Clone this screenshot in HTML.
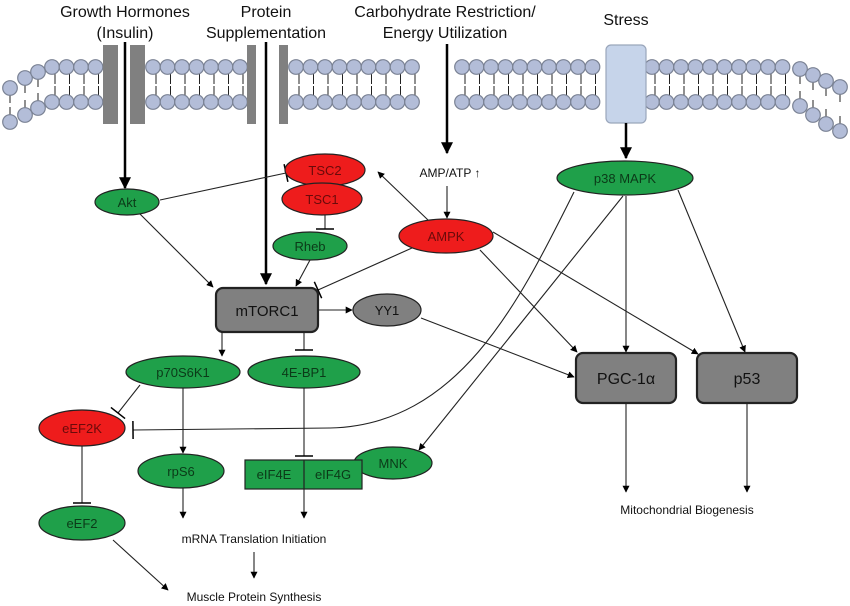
<!DOCTYPE html>
<html><head><meta charset="utf-8"><style>
body{margin:0;background:#fff}
svg{display:block;font-family:"Liberation Sans",Arial,sans-serif}
</style></head><body>
<svg id="s" width="850" height="606" viewBox="0 0 850 606" xmlns="http://www.w3.org/2000/svg">
<defs>
<marker id="a" viewBox="0 0 10 10" refX="9" refY="5" markerWidth="7" markerHeight="7" orient="auto" markerUnits="userSpaceOnUse"><path d="M0,0 L10,5 L0,10 z" fill="#000"/></marker>
<marker id="A" viewBox="0 0 10 10" refX="9" refY="5" markerWidth="12" markerHeight="12" orient="auto" markerUnits="userSpaceOnUse"><path d="M0,0 L10,5 L0,10 z" fill="#000"/></marker>
<marker id="t" viewBox="0 0 20 20" refX="10" refY="10" markerWidth="20" markerHeight="20" orient="auto" markerUnits="userSpaceOnUse"><path d="M10,1 L10,19" stroke="#000" stroke-width="1.5"/></marker>
</defs>
<g id="mem"></g>
<!-- channels -->
<g fill="#808080">
<rect x="103" y="45" width="15" height="79"/><rect x="130" y="45" width="15" height="79"/>
<rect x="247" y="45" width="9" height="79"/><rect x="279" y="45" width="9" height="79"/>
</g>
<rect x="606" y="45" width="40" height="78" rx="5" fill="#c6d4ea" stroke="#9aa6bb" stroke-width="1.2"/>
<!-- titles -->
<g font-size="16" text-anchor="middle" fill="#111">
<text x="125" y="17">Growth Hormones</text><text x="125" y="38">(Insulin)</text>
<text x="266" y="17">Protein</text><text x="266" y="38">Supplementation</text>
<text x="445" y="17">Carbohydrate Restriction/</text><text x="445" y="38">Energy Utilization</text>
<text x="626" y="25">Stress</text>
</g>
<!-- thick arrows -->
<g stroke="#000" stroke-width="2.5" fill="none">
<line x1="125" y1="42" x2="125" y2="188" marker-end="url(#A)"/>
<line x1="266" y1="42" x2="266" y2="284" marker-end="url(#A)"/>
<line x1="447" y1="44" x2="447" y2="153" marker-end="url(#A)"/>
<line x1="626" y1="123" x2="626" y2="158" marker-end="url(#A)"/>
</g>
<!-- thin connectors -->
<g stroke="#222" stroke-width="1.1" fill="none">
<line x1="140" y1="214" x2="213" y2="287" marker-end="url(#a)"/>
<line x1="160" y1="200" x2="286" y2="173" marker-end="url(#t)"/>
<line x1="325" y1="215" x2="325" y2="229" marker-end="url(#t)"/>
<line x1="310" y1="260" x2="296" y2="286" marker-end="url(#a)"/>
<line x1="447" y1="186" x2="447" y2="218" marker-end="url(#a)"/>
<line x1="428" y1="220" x2="378" y2="172" marker-end="url(#a)"/>
<line x1="412" y1="248" x2="318" y2="290" marker-end="url(#t)"/>
<line x1="480" y1="250" x2="577" y2="352" marker-end="url(#a)"/>
<line x1="493" y1="232" x2="698" y2="354" marker-end="url(#a)"/>
<line x1="318" y1="310" x2="352" y2="310" marker-end="url(#a)"/>
<line x1="421" y1="318" x2="574" y2="377" marker-end="url(#a)"/>
<line x1="222" y1="332" x2="222" y2="356" marker-end="url(#a)"/>
<line x1="304" y1="332" x2="304" y2="350" marker-end="url(#t)"/>
<line x1="626" y1="196" x2="626" y2="352" marker-end="url(#a)"/>
<line x1="678" y1="190" x2="745" y2="352" marker-end="url(#a)"/>
<line x1="623" y1="196" x2="419" y2="450" marker-end="url(#a)"/>
<path d="M574 192 C520 300,460 425,330 428 L133 430" marker-end="url(#t)"/>
<line x1="140" y1="385" x2="118" y2="413" marker-end="url(#t)"/>
<line x1="183" y1="388" x2="183" y2="453" marker-end="url(#a)"/>
<line x1="304" y1="388" x2="304" y2="456" marker-end="url(#t)"/>
<line x1="304" y1="460" x2="304" y2="518" marker-end="url(#a)"/>
<line x1="183" y1="488" x2="183" y2="518" marker-end="url(#a)"/>
<line x1="82" y1="446" x2="82" y2="503" marker-end="url(#t)"/>
<line x1="113" y1="540" x2="168" y2="590" marker-end="url(#a)"/>
<line x1="254" y1="552" x2="254" y2="578" marker-end="url(#a)"/>
<line x1="626" y1="403" x2="626" y2="492" marker-end="url(#a)"/>
<line x1="747" y1="403" x2="747" y2="492" marker-end="url(#a)"/>
</g>
<!-- nodes -->
<g stroke="#222" stroke-width="1.2" font-size="13" text-anchor="middle">
<ellipse cx="127" cy="202" rx="32" ry="13" fill="#1fa04a"/>
<ellipse cx="325" cy="170" rx="40" ry="16" fill="#ee1c1c"/>
<ellipse cx="322" cy="199" rx="40" ry="16" fill="#ee1c1c"/>
<ellipse cx="310" cy="246" rx="37" ry="14" fill="#1fa04a"/>
<ellipse cx="446" cy="236" rx="47" ry="17" fill="#ee1c1c"/>
<ellipse cx="625" cy="178" rx="68" ry="17" fill="#1fa04a"/>
<rect x="216" y="288" width="102" height="44" rx="7" fill="#808080" stroke-width="2.2"/>
<ellipse cx="387" cy="310" rx="34" ry="16" fill="#808080"/>
<ellipse cx="183" cy="372" rx="57" ry="16" fill="#1fa04a"/>
<ellipse cx="304" cy="372" rx="56" ry="16" fill="#1fa04a"/>
<ellipse cx="82" cy="428" rx="43" ry="18" fill="#ee1c1c"/>
<ellipse cx="181" cy="471" rx="43" ry="17" fill="#1fa04a"/>
<ellipse cx="393" cy="463" rx="39" ry="16" fill="#1fa04a"/>
<rect x="245" y="460" width="117" height="29" fill="#1fa04a"/>
<line x1="304" y1="460" x2="304" y2="489"/>
<ellipse cx="82" cy="523" rx="43" ry="17" fill="#1fa04a"/>
<rect x="576" y="353" width="100" height="50" rx="7" fill="#808080" stroke-width="2.2"/>
<rect x="697" y="353" width="100" height="50" rx="7" fill="#808080" stroke-width="2.2"/>
</g>
<g font-size="13" text-anchor="middle" fill="#0b3a18">
<text x="127" y="207">Akt</text><text x="310" y="251">Rheb</text>
<text x="625" y="183">p38 MAPK</text><text x="183" y="377">p70S6K1</text>
<text x="304" y="377">4E-BP1</text><text x="181" y="476">rpS6</text>
<text x="393" y="468">MNK</text><text x="274" y="479">eIF4E</text><text x="333" y="479">eIF4G</text>
<text x="82" y="528">eEF2</text>
</g>
<g font-size="13" text-anchor="middle" fill="#6a0a0a">
<text x="325" y="175">TSC2</text><text x="322" y="204">TSC1</text>
<text x="446" y="241">AMPK</text><text x="82" y="433">eEF2K</text>
</g>
<g text-anchor="middle" fill="#111">
<text x="267" y="316" font-size="15">mTORC1</text>
<text x="387" y="315" font-size="13">YY1</text>
<text x="626" y="384" font-size="16">PGC-1α</text>
<text x="747" y="384" font-size="16">p53</text>
<text x="450" y="177" font-size="12">AMP/ATP ↑</text>
<text x="254" y="543" font-size="12">mRNA Translation Initiation</text>
<text x="254" y="601" font-size="12">Muscle Protein Synthesis</text>
<text x="687" y="514" font-size="12">Mitochondrial Biogenesis</text>
</g>
</svg>
<script>
(function(){
var g=document.getElementById('mem'),h='';
function c(x,y){h+='<circle cx="'+x+'" cy="'+y+'" r="7.3" fill="#b3bdd8" stroke="#7a8294" stroke-width="1.2"/>';}
function tail(x,y1,y2){h+='<line x1="'+x+'" y1="'+y1+'" x2="'+x+'" y2="'+y2+'" stroke="#222" stroke-width="1"/>';}
var segs=[[52,103],[153,247],[296,432],[462,606],[652,800]];
var L=[[10,88,122],[25,78,115],[38,72,108]];
L.forEach(function(p){tail(p[0],p[1]+7,p[1]+15);tail(p[0],p[2]-15,p[2]-7);c(p[0],p[1]);c(p[0],p[2]);});
var R=[[800,69,106],[813,75,115],[826,81,124],[840,87,131]];
R.forEach(function(p){tail(p[0],p[1]+7,p[1]+15);tail(p[0],p[2]-15,p[2]-7);c(p[0],p[1]);c(p[0],p[2]);});
segs.forEach(function(s){for(var x=s[0];x<=s[1]-6;x+=14.5){tail(x+3,74,84);tail(x+3,86,96);c(x,67);c(x,102);}});
g.innerHTML=h;
})();
</script>
</body></html>
